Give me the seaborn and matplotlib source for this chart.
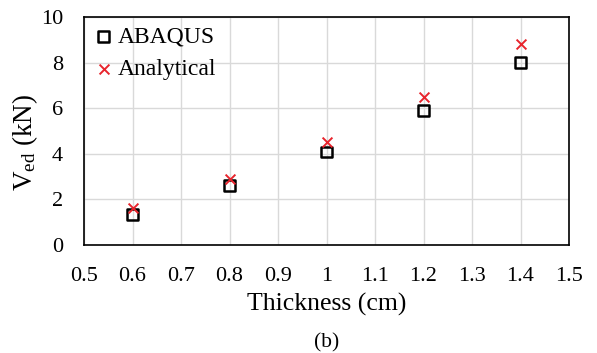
import matplotlib
matplotlib.use("Agg")
import matplotlib.pyplot as plt
import seaborn as sns
import pandas as pd

thickness = [0.6, 0.8, 1.0, 1.2, 1.4]
abaqus = [1.35, 2.6, 4.08, 5.88, 8.0]
analytical = [1.64, 2.89, 4.5, 6.48, 8.83]
xticks = [0.5, 0.6, 0.7, 0.8, 0.9, 1.0, 1.1, 1.2, 1.3, 1.4, 1.5]
xticklabels = ["0.5", "0.6", "0.7", "0.8", "0.9", "1", "1.1", "1.2", "1.3", "1.4", "1.5"]
yticks = [0, 2, 4, 6, 8, 10]

sns.set_theme(style="whitegrid")
plt.rcParams['font.family'] = ['Liberation Serif', 'DejaVu Serif']
plt.rcParams['mathtext.fontset'] = 'custom'
plt.rcParams['mathtext.rm'] = 'Liberation Serif'
plt.rcParams['mathtext.it'] = 'Liberation Serif:italic'
plt.rcParams['text.color'] = 'black'

df = pd.DataFrame({"x": thickness * 2,
                   "y": abaqus + analytical,
                   "series": ["ABAQUS"] * 5 + ["Analytical"] * 5})

fig = plt.figure(figsize=(5.97, 3.53), dpi=100)
ax = fig.add_axes([84/597, 1 - 245/353, (569-84)/597, (245-17)/353])

sns.scatterplot(data=df[df.series == "ABAQUS"], x="x", y="y", ax=ax,
                marker="s", s=62, facecolors="none", edgecolor="black",
                linewidth=1.8, label="ABAQUS", zorder=3)
sns.scatterplot(data=df[df.series == "Analytical"], x="x", y="y", ax=ax,
                marker="x", s=50, color="#e8242c", linewidth=1.4,
                label="Analytical", zorder=4)

ax.set_xlim(0.5, 1.5)
ax.set_ylim(0, 10)
ax.set_xticks(xticks)
ax.set_xticklabels(xticklabels)
ax.set_yticks(yticks)
ax.tick_params(axis='both', labelsize=16, colors='black', length=0)
ax.tick_params(axis='x', pad=16)
ax.tick_params(axis='y', pad=15)
ax.grid(True, color="#d9d9d9", linewidth=1)
for sp in ax.spines.values():
    sp.set_visible(True)
    sp.set_color("black")
    sp.set_linewidth(1.2)

ax.set_xlabel("Thickness (cm)", fontsize=18.5, color="black", labelpad=5)
ax.set_ylabel(r"V$_{\mathrm{ed}}$ (kN)", fontsize=19.5, color="black")
ax.yaxis.set_label_coords(-(84 - 40) / 485, (245 - 142) / 228)

leg = ax.legend(loc="upper left", bbox_to_anchor=(-0.003, 1.0), frameon=False,
                fontsize=17, handletextpad=0.1, borderaxespad=0.2,
                borderpad=0.2, labelspacing=0.45, handlelength=1.0,
                markerscale=1.0, labelcolor="black")

fig.text(0.5 * (84 + 569) / 597, 1 - 343/353, "(b)", ha="center", va="center",
         fontsize=15.5, color="black")

fig.savefig("out.png", dpi=100, facecolor="white")
